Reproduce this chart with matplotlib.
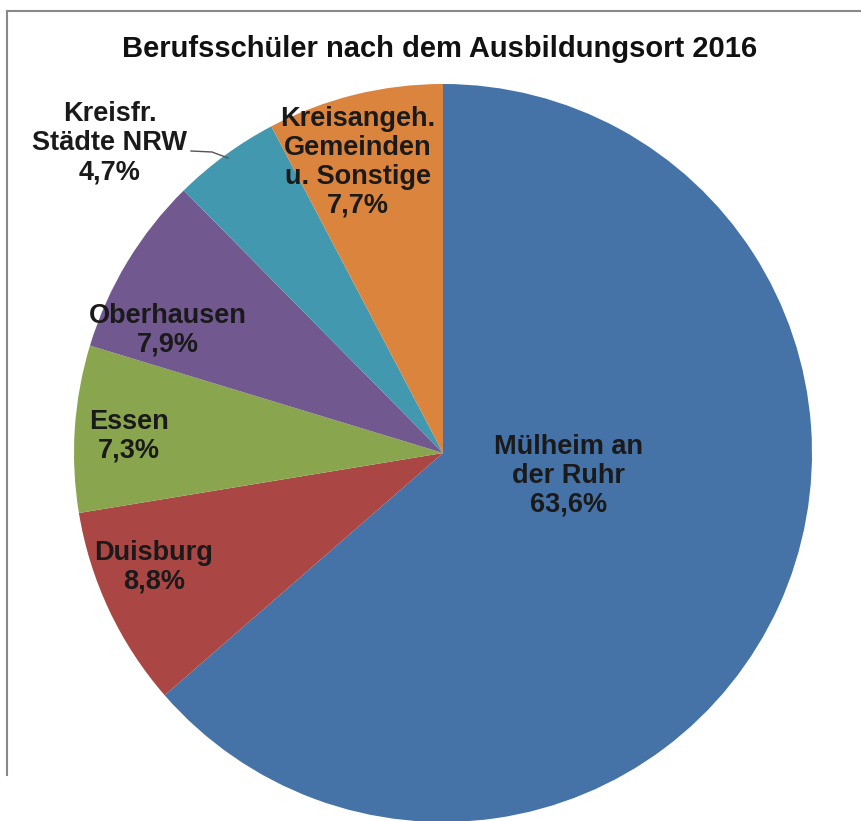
import matplotlib.pyplot as plt
from matplotlib.lines import Line2D

# data
labels = ['Mülheim an\nder Ruhr', 'Duisburg', 'Essen', 'Oberhausen',
          'Kreisfr.\nStädte NRW', 'Kreisangeh.\nGemeinden\nu. Sonstige']
shares = [63.6, 8.8, 7.3, 7.9, 4.7, 7.7]
colors = ['#4572A7', '#AA4643', '#89A54E', '#71588F', '#4198AF', '#DB843D']
title = 'Berufsschüler nach dem Ausbildungsort 2016'

# label anchor positions (pixels, y from top)
label_pos = [(569, 476), (154, 567), (129, 436), (168, 330), (110, 143), (358, 162)]

W, H = 861, 821
fig = plt.figure(figsize=(W / 100, H / 100), dpi=100)
ax = fig.add_axes([0, 0, 1, 1])

ax.pie(shares, colors=colors, startangle=90, counterclock=False,
       center=(443, H - 453), radius=369, frame=True,
       wedgeprops={'linewidth': 0})
ax.set_xlim(0, W)
ax.set_ylim(0, H)
ax.axis('off')

for lab, val, (x, y) in zip(labels, shares, label_pos):
    txt = lab + '\n' + '{:.1f}%'.format(val).replace('.', ',')
    ax.text(x, H - y, txt, ha='center', va='center', fontsize=19.5,
            fontweight='bold', family='Liberation Sans', color='#1a1a1a',
            linespacing=1.15)

# leader line for the small slice
ax.plot([191, 212, 228], [H - 151, H - 152, H - 158], color='#555555', lw=1)

ax.text(440, H - 49, title, ha='center', va='center', fontsize=21,
        fontweight='bold', family='Liberation Sans', color='#111111')

# frame lines (top and left)
fig.add_artist(Line2D([7 / W, 1], [1 - 11 / H, 1 - 11 / H], color='#888888', lw=1.5))
fig.add_artist(Line2D([7 / W, 7 / W], [1 - 11 / H, 1 - 775 / H], color='#888888', lw=1.5))

fig.savefig('out.png', dpi=100)
